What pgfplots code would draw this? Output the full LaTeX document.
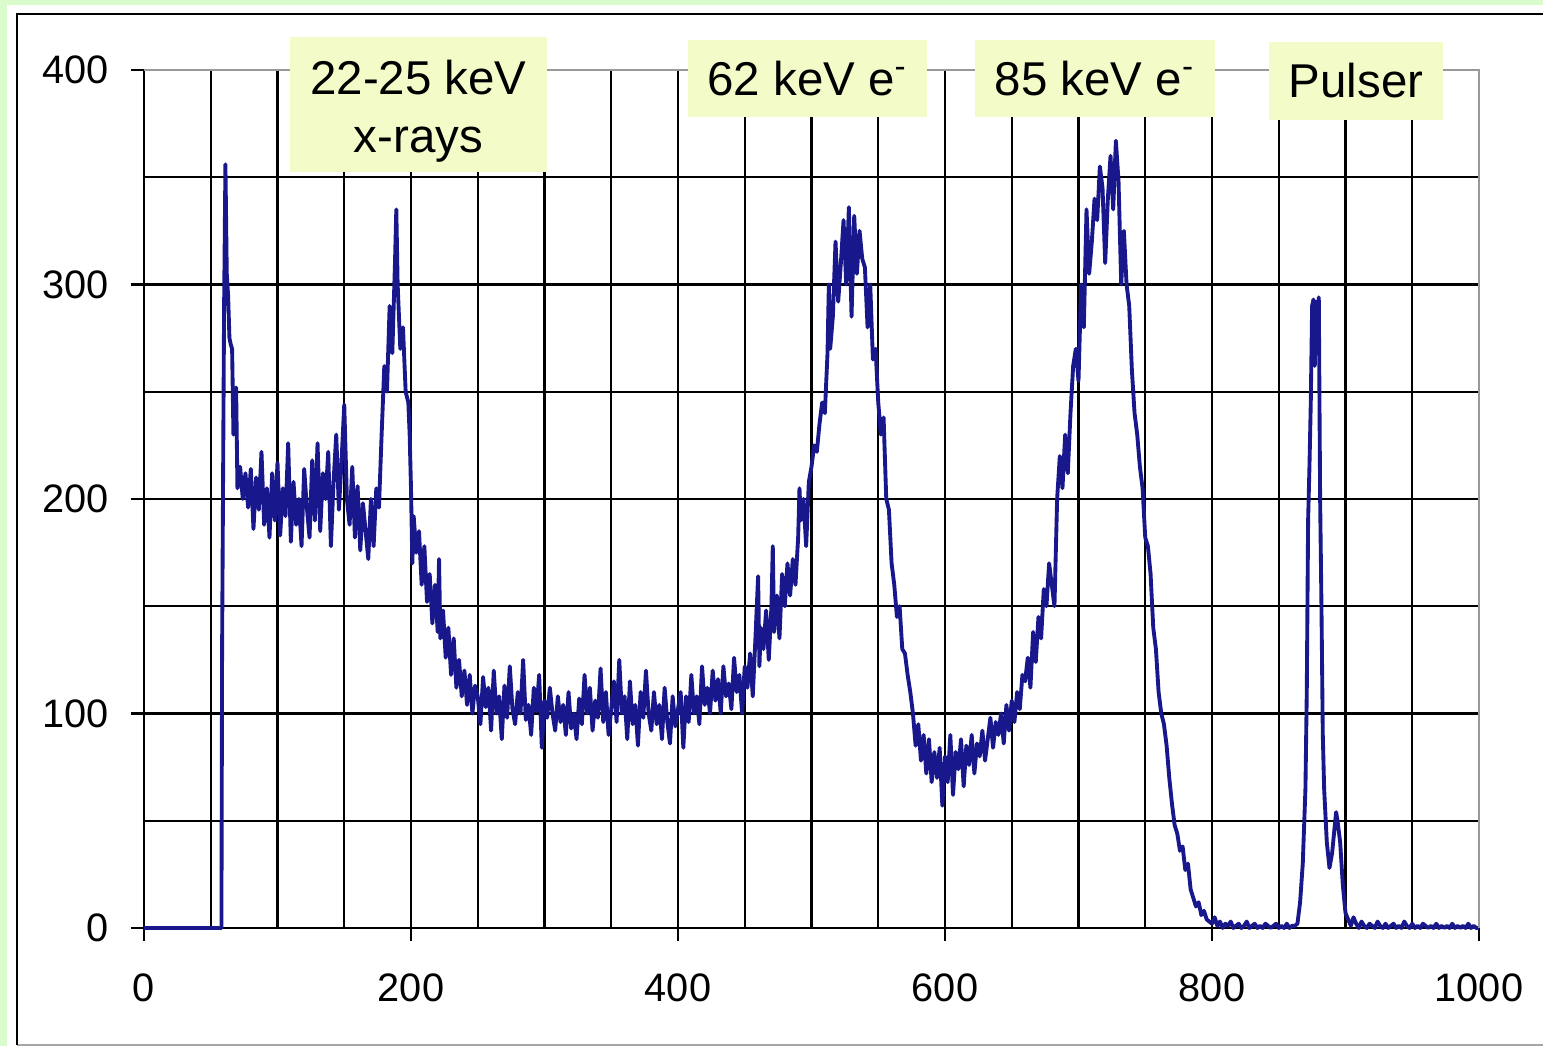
\documentclass[border=0pt]{standalone}
\usepackage{pgfplots}
\pgfplotsset{compat=1.18}
\usepackage{fontspec}
\setmainfont{Liberation Sans}
\definecolor{bggreen}{RGB}{218,251,204}
\definecolor{boxyellow}{RGB}{243,252,201}
\definecolor{specblue}{RGB}{24,24,140}
\begin{document}
\begin{tikzpicture}
\path[use as bounding box] (0,0) rectangle (15.43,10.46);
\fill[bggreen] (0,0) rectangle (15.43,10.46);
\fill[white] (0.07,0) rectangle (15.43,10.41);
\draw[gray!70, line width=0.6pt] (0.17,0.01) -- (15.43,0.01);
\draw[black, line width=0.6pt] (0.17,0.01) -- (0.17,10.32) -- (15.43,10.32);
\begin{axis}[
  at={(1.44cm,1.18cm)}, anchor=origin,
  scale only axis, width=13.35cm, height=8.58cm,
  xmin=0, xmax=1000, ymin=0, ymax=400,
  enlargelimits=false,
  axis x line*=bottom, axis y line*=left,
  axis line style={black, line width=0.65pt, -},
  xtick={0,200,...,1000}, minor xtick={50,100,...,950},
  ytick={0,100,...,400}, minor ytick={50,150,250,350},
  grid=both,
  major grid style={black, line width=0.6pt},
  minor grid style={black, line width=0.6pt},
  tick align=outside,
  major tick length=0.13cm, minor tick length=0pt,
  tick style={black, line width=0.65pt},
  ticklabel style={font=\fontsize{11.3}{13}\selectfont},
  /pgf/number format/assume math mode=true,
  /pgf/number format/1000 sep={},
  xticklabel style={yshift=-0.2cm},
  yticklabel style={xshift=-0.1cm},
  clip=false,
]
\addplot[specblue, line width=1.1pt, line join=round] coordinates {
(0,0) (58,0) (58.5,130) (60,290) (61,356) (62,305) (63,295) (64,275) (65,272) (66,270) (67,230) (68,248) (69,252) (70,205)
(72,215) (74,200) (76,212) (78,196) (80,214) (82,186) (84,210) (86,195) (88,222) (90,188) (92,205) (94,182) (96,212) (98,190)
(100,217) (102,183) (104,205) (106,192) (108,226) (110,180) (112,208) (114,188) (116,200) (118,178) (120,214) (122,196) (124,182)
(126,218) (128,190) (130,226) (132,185) (134,212) (136,200) (138,222) (140,178) (142,208) (144,230) (146,195) (148,218) (150,244)
(152,200) (154,188) (156,215) (158,182) (160,206) (162,176) (164,198) (166,185) (168,172) (170,200) (172,178) (174,205) (176,196)
(178,230) (180,262) (182,250) (184,290) (186,268) (188,310) (189,335) (190,300) (192,270) (194,280) (196,250) (198,245) (199,230)
(200,205) (201,170) (202,192) (204,175) (206,185) (208,160) (210,178) (212,152) (214,165) (216,142) (218,160) (220,138) (221,172)
(222,135) (224,148) (226,126) (228,140) (230,118) (232,135) (234,112) (236,125) (238,108) (240,120) (242,104) (244,118) (246,100) (248,113)
(250,108) (252,95) (254,117) (256,103) (258,112) (260,92) (262,120) (264,100) (266,108) (268,88) (270,113) (272,98) (274,122) (276,102)
(278,95) (280,110) (282,100) (284,125) (286,97) (288,104) (290,90) (292,112) (294,101) (296,118) (298,84) (300,106) (302,98) (304,112)
(306,100) (308,92) (310,108) (312,96) (314,104) (316,90) (318,110) (320,93) (322,100) (324,88) (326,107) (328,95) (330,118) (332,100)
(334,112) (336,92) (338,106) (340,98) (342,121) (344,96) (346,110) (348,90) (350,102) (352,115) (354,96) (356,125) (358,100) (360,108)
(362,88) (364,115) (366,95) (368,104) (370,85) (372,110) (374,98) (376,120) (378,100) (380,92) (382,110) (384,95) (386,104) (388,88)
(390,112) (392,96) (394,86) (396,108) (398,94) (400,102) (402,110) (404,84) (406,108) (408,96) (410,118) (412,100) (414,108) (416,95)
(418,122) (420,104) (422,112) (424,100) (426,120) (428,106) (430,116) (432,100) (434,122) (436,108) (438,114) (440,102) (442,126) (444,110)
(446,118) (448,100) (450,122) (452,112) (454,128) (456,108) (458,135) (460,164) (461,122) (462,140) (464,130) (466,148) (468,125) (470,150)
(471,178) (472,138) (474,155) (476,135) (478,165) (480,150) (482,170) (484,155) (486,172) (488,160) (490,182) (491,205) (492,190) (494,200)
(496,178) (498,208) (500,215) (502,225) (504,222) (506,235) (508,245) (510,240) (512,268) (513,300) (514,270) (516,285) (518,320) (520,292)
(522,310) (524,330) (526,300) (528,336) (530,285) (532,332) (534,305) (536,325) (538,312) (540,308) (542,280) (544,300) (546,265) (548,270)
(550,245) (552,230) (554,238) (556,200) (558,195) (560,170) (562,160) (564,145) (566,150) (568,130) (570,128) (572,118) (574,110) (576,100)
(578,85) (580,95) (582,78) (584,90) (586,72) (588,88) (590,68) (592,82) (594,70) (596,84) (598,57) (600,80) (602,68) (604,90) (606,62)
(608,82) (610,74) (612,88) (614,66) (616,85) (618,76) (620,90) (622,72) (624,86) (626,80) (628,92) (630,78) (632,88) (634,98) (636,84)
(638,96) (640,90) (642,100) (644,86) (646,104) (648,92) (650,106) (652,96) (654,110) (656,102) (658,118) (660,115) (662,126) (664,112)
(666,138) (668,124) (670,145) (672,135) (674,158) (676,150) (678,170) (680,160) (682,150) (684,200) (686,220) (688,205) (690,230) (692,212)
(694,240) (696,262) (698,270) (700,255) (702,300) (704,280) (706,335) (708,305) (710,320) (712,340) (714,330) (716,355) (718,345) (720,310)
(722,340) (724,360) (726,335) (728,367) (730,348) (732,300) (734,325) (736,300) (738,290) (740,260) (742,240) (744,230) (746,215) (748,205)
(750,182) (752,178) (754,165) (756,140) (758,130) (760,110) (762,100) (764,95) (766,85) (768,70) (770,58) (772,48) (774,44) (776,36)
(778,38) (780,27) (782,30) (784,18) (786,14) (788,10) (790,12) (792,6) (794,8) (796,4) (798,3) (800,2) (802,5) (804,1) (806,3) (808,0)
(810,2) (812,1) (814,3) (816,0) (818,1) (820,2) (822,0) (824,1) (826,3) (828,0) (830,1) (832,2) (834,0) (836,1) (838,0) (840,2) (842,1)
(844,0) (846,1) (848,2) (850,0) (852,1) (854,0) (856,2) (858,0) (860,1) (862,1) (864,2) (866,12) (868,30) (870,65) (871,110) (872,190)
(873,215) (874,245) (875,290) (876,293) (877,262) (878,292) (879,270) (880,294) (881,200) (882,150) (883,90) (884,65) (886,40) (888,28)
(890,35) (892,48) (893,54) (894,50) (896,40) (898,20) (900,7) (902,4) (904,1) (906,5) (908,2) (910,0) (912,3) (914,1) (916,0) (918,2)
(920,1) (922,0) (924,3) (926,1) (928,0) (930,2) (932,0) (934,1) (936,2) (938,0) (940,1) (942,0) (944,3) (946,1) (948,0) (950,2) (952,0)
(954,1) (956,0) (958,2) (960,1) (962,0) (964,1) (966,0) (968,2) (970,0) (972,1) (974,0) (976,1) (978,0) (980,2) (982,0) (984,1) (986,0)
(988,1) (990,0) (992,2) (994,0) (996,1) (998,0) (1000,0)
};
\draw[gray!80, line width=0.6pt] (axis cs:0,400) -- (axis cs:1000,400) -- (axis cs:1000,0);
\end{axis}
\fill[boxyellow] (2.90,8.74) rectangle (5.47,10.09);
\node[inner sep=0pt, font=\fontsize{13.5}{16.5}\selectfont, align=center] at (4.185,9.35) {22-25 keV\\x-rays};
\begin{scope}[every node/.style={fill=boxyellow, inner sep=0pt, font=\fontsize{13.5}{16.5}\selectfont, align=center}]
\node[minimum width=2.39cm, minimum height=0.77cm] at (8.075,9.675) {62 keV e\textsuperscript{-}};
\node[minimum width=2.40cm, minimum height=0.77cm] at (10.95,9.675) {85 keV e\textsuperscript{-}};
\node[minimum width=1.74cm, minimum height=0.78cm] at (13.56,9.65) {Pulser};
\end{scope}
\end{tikzpicture}
\end{document}
